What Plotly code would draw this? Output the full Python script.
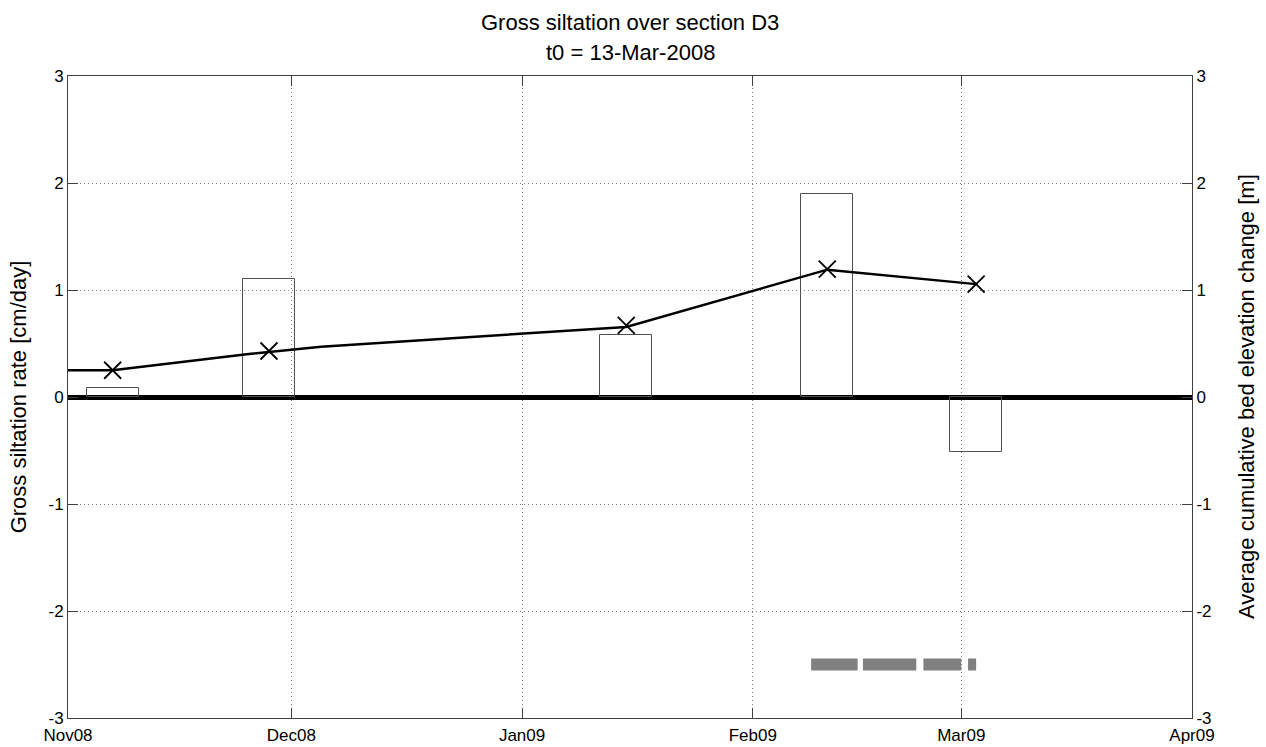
import plotly.graph_objects as go

# Weekly gross siltation bars (centre date of each 7-day window)
bar_dates = ["2008-11-07", "2008-11-28", "2009-01-15", "2009-02-11", "2009-03-03"]
siltation_rate = [0.08, 1.10, 0.58, 1.90, -0.51]

# Survey markers: average cumulative bed elevation change
survey_dates = ["2008-11-07", "2008-11-28", "2009-01-15", "2009-02-11", "2009-03-03"]
bed_change = [0.25, 0.43, 0.67, 1.195, 1.055]

# Cumulative bed elevation curve
curve_dates = ["2008-10-20", "2008-11-07", "2008-11-25", "2008-12-05",
               "2009-01-15", "2009-02-11", "2009-03-03"]
curve_values = [0.25, 0.25, 0.40, 0.47, 0.655, 1.19, 1.055]

# Dredging periods shown as grey blocks
dredge_start = ["2009-02-08 20:00", "2009-02-15 19:00", "2009-02-23 22:00", "2009-03-01 22:00"]
dredge_end = ["2009-02-15 02:00", "2009-02-22 23:00", "2009-03-01 00:00", "2009-03-03 00:00"]
dredge_level = -2.5

y_ticks = [-3, -2, -1, 0, 1, 2, 3]
y_tick_labels = ["-3", "-2", "-1", "0", "1", "2", "3"]
x_range = ["2008-11-01", "2009-04-01"]

FONT = "Liberation Sans, Arial, sans-serif"
WEEK_MS = 7 * 24 * 3600 * 1000


def build_figure():
    fig = go.Figure()

    # Open bars for siltation rate
    fig.add_trace(go.Bar(
        x=bar_dates, y=siltation_rate, width=[WEEK_MS] * len(bar_dates),
        marker=dict(color="rgba(0,0,0,0)", line=dict(color="#505050", width=1)),
        showlegend=False,
    ))

    # Dredging blocks
    dx, dy = [], []
    for s, e in zip(dredge_start, dredge_end):
        dx += [s, e, None]
        dy += [dredge_level, dredge_level, None]
    fig.add_trace(go.Scatter(
        x=dx, y=dy, mode="lines", line=dict(color="#808080", width=12),
        showlegend=False, yaxis="y2",
    ))

    # Cumulative curve + survey markers
    fig.add_trace(go.Scatter(
        x=curve_dates, y=curve_values, mode="lines",
        line=dict(color="black", width=2.5), showlegend=False, yaxis="y2",
    ))
    fig.add_trace(go.Scatter(
        x=survey_dates, y=bed_change, mode="markers",
        marker=dict(symbol="x-thin", size=17, line=dict(color="black", width=1.8)),
        showlegend=False, yaxis="y2",
    ))

    axis_common = dict(
        range=[-3, 3], tickvals=y_ticks, ticktext=y_tick_labels,
        ticks="inside", ticklen=10, automargin=False,
        tickcolor="#404040", showline=True, linecolor="#404040", linewidth=1,
        tickfont=dict(size=17, color="black"),
    )

    fig.update_layout(
        width=1266, height=747,
        margin=dict(l=68, r=74, t=76, b=29),
        paper_bgcolor="white", plot_bgcolor="white",
        font=dict(family=FONT, color="black"),
        bargap=0,
        xaxis=dict(
            type="date", range=x_range, dtick="M1", tickformat="%b%y",
            ticks="inside", ticklen=10, tickcolor="#404040", automargin=False,
            ticklabelstandoff=2,
            showline=True, linecolor="#404040", linewidth=1, mirror="ticks",
            showgrid=True, gridcolor="#808080", griddash="1px,3px", gridwidth=1,
            tickfont=dict(size=17, color="black"),
        ),
        yaxis=dict(
            **axis_common,
            showgrid=True, gridcolor="#808080", griddash="1px,3px", gridwidth=1,
            zeroline=True, zerolinecolor="black", zerolinewidth=5,
            title=dict(text="Gross siltation rate [cm/day]", font=dict(size=22)),
        ),
        yaxis2=dict(
            **axis_common,
            overlaying="y", side="right", showgrid=False, zeroline=False,
        ),
        annotations=[
            dict(text="Gross siltation over section D3", xref="paper", yref="paper",
                 x=0.5, y=1, yanchor="middle", yshift=54, showarrow=False, font=dict(size=22)),
            dict(text="t0 = 13-Mar-2008", xref="paper", yref="paper",
                 x=0.5, y=1, yanchor="middle", yshift=24, showarrow=False, font=dict(size=22)),
            # right axis title
            dict(text="Average cumulative bed elevation change [m]", xref="paper", yref="paper",
                 x=1, y=0.5, xanchor="center", yanchor="middle", xshift=54, textangle=-90,
                 showarrow=False, font=dict(size=22)),
        ],
    )
    return fig


if __name__ == "__main__":
    fig = build_figure()
    # drop the default page margin so the figure sits at the window's corner
    fig.write_html("out.html", config={"displayModeBar": False},
                   post_script="document.body.style.margin='0';")
